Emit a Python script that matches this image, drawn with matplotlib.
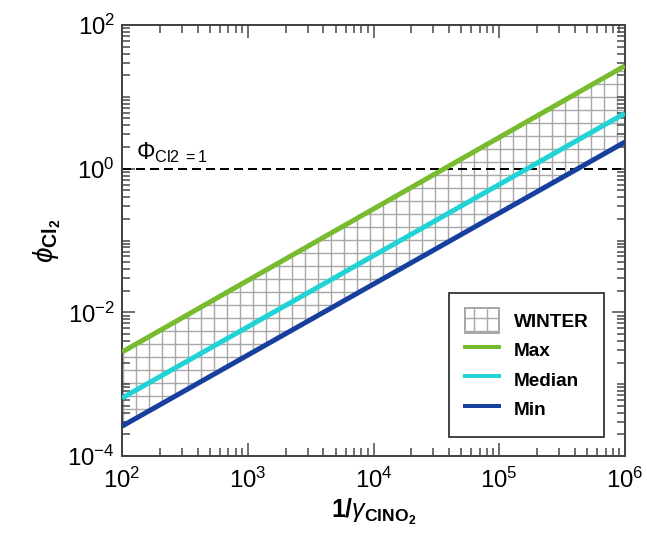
"""
Cl2 yield vs 1/gamma(ClNO2) for winter conditions (max / median / min).
"""
import numpy as np
import matplotlib
matplotlib.use('Agg')
import matplotlib.pyplot as plt
from matplotlib.patches import Patch
from matplotlib.lines import Line2D
from matplotlib.ticker import LogLocator, FixedLocator, NullFormatter

# Data (straight lines in log-log space)
inv_gamma = [1e2, 1e6]
phi_max = [2.8e-3, 27.0]
phi_median = [6.4e-4, 5.9]
phi_min = [2.6e-4, 2.35]

series_names = ['Max', 'Median', 'Min']
series_colors = ['#77bb2f', '#22d3d6', '#173f9e']

DPI = 78
plt.rcParams['font.family'] = ['Liberation Sans', 'DejaVu Sans']
plt.rcParams['mathtext.fontset'] = 'custom'
plt.rcParams['mathtext.rm'] = 'Liberation Sans'
plt.rcParams['mathtext.it'] = 'Liberation Sans:italic'
plt.rcParams['mathtext.bf'] = 'Liberation Sans:bold'
plt.rcParams['hatch.color'] = '#a8a8a8'
plt.rcParams['hatch.linewidth'] = 1.3


def px(v):
    """pixels -> points at the chosen dpi"""
    return v * 72.0 / DPI


fig = plt.figure(figsize=(647 / DPI, 560 / DPI), dpi=DPI)
ax = fig.add_axes([122 / 647, 1 - 456 / 560, 503 / 647, 431 / 560])

# hatched winter envelope
ax.fill_between(inv_gamma, phi_min, phi_max, facecolor='none',
                edgecolor='#a8a8a8', linewidth=0, hatch='+', zorder=1)

for vals, col in zip([phi_max, phi_median, phi_min], series_colors):
    ax.plot(inv_gamma, vals, color=col, linewidth=px(5), solid_capstyle='butt', zorder=3)

# phi = 1 reference line
ax.axhline(1.0, color='black', linewidth=px(2), dashes=(4.5, 2.5), zorder=2)
ax.text(1.3e2, 1.12, r'$\mathregular{\Phi_{Cl2\ =1}}$', fontsize=px(23),
        ha='left', va='bottom')

ax.set_xscale('log')
ax.set_yscale('log')
ax.set_xlim(1e2, 1e6)
ax.set_ylim(1e-4, 1e2)

ax.xaxis.set_major_locator(LogLocator(base=10, numticks=10))
ax.yaxis.set_major_locator(FixedLocator([1e-4, 1e-2, 1e0, 1e2]))
ax.yaxis.set_minor_locator(LogLocator(base=10, subs=np.arange(1, 10), numticks=20))
ax.xaxis.set_minor_locator(LogLocator(base=10, subs=np.arange(2, 10), numticks=20))
ax.yaxis.set_minor_formatter(NullFormatter())
ax.xaxis.set_minor_formatter(NullFormatter())

ax.tick_params(which='both', direction='in', top=True, right=True,
               width=px(1.5), color='#444444')
ax.tick_params(which='major', length=px(13), labelsize=px(24))
ax.tick_params(axis='x', which='major', pad=px(12))
ax.tick_params(axis='y', which='major', pad=px(7))
ax.tick_params(which='minor', length=px(8))
for sp in ax.spines.values():
    sp.set_linewidth(px(2))
    sp.set_color('#444444')

ax.set_xlabel(r'$\mathbf{1/}\mathit{\gamma}_{\mathbf{ClNO_2}}$', fontsize=px(25), labelpad=px(4))
ax.set_ylabel(r'$\mathit{\phi}_{\mathbf{Cl_2}}$', fontsize=px(28), labelpad=px(4))

handles = [Patch(facecolor='white', edgecolor='#a8a8a8', hatch='+', linewidth=px(2))]
handles += [Line2D([0], [0], color=c, linewidth=px(4)) for c in series_colors]
labels = ['WINTER'] + series_names
leg = ax.legend(handles, labels, loc='lower right', bbox_to_anchor=(0.958, 0.044),
                frameon=True, fancybox=False, edgecolor='black',
                prop={'weight': 'bold', 'size': px(19)},
                handlelength=1.8, handleheight=1.7, labelspacing=0.2,
                borderpad=0.8, handletextpad=0.8, borderaxespad=0)
leg.get_frame().set_linewidth(px(1.8))
leg.set_zorder(5)

fig.savefig('out.png', dpi=DPI)
